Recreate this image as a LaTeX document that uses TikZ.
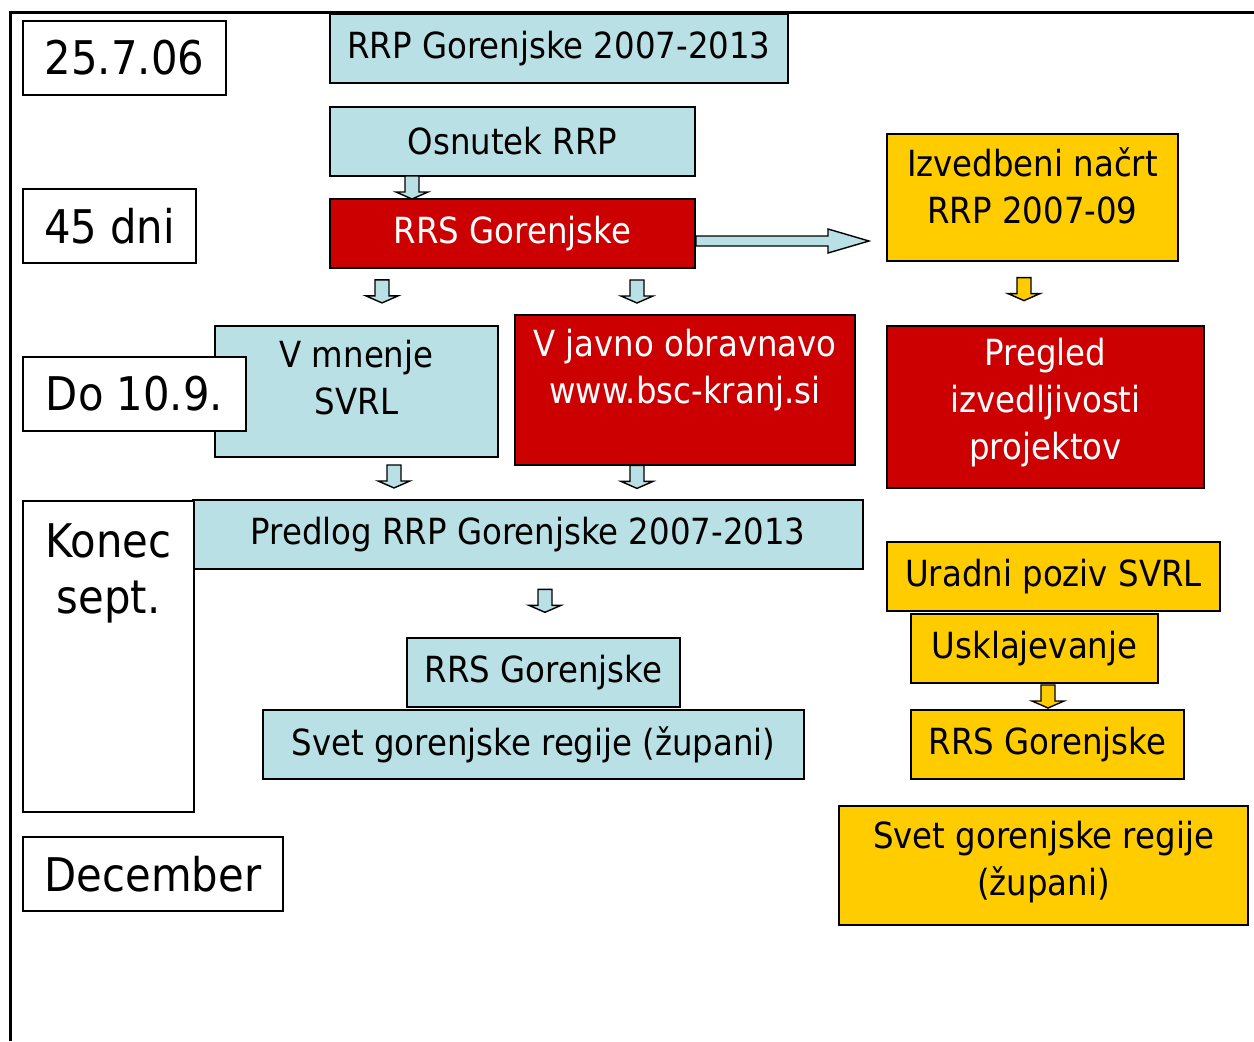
\documentclass[tikz,border=0pt]{standalone}
\usepackage{fontspec}
\setmainfont[FakeStretch=0.9]{DejaVu Sans}
\usetikzlibrary{calc}
\definecolor{ltblue}{RGB}{185,224,228}
\definecolor{rrsred}{RGB}{204,0,0}
\definecolor{gold}{RGB}{255,204,0}
\tikzset{
  spot/.style args={#1/#2/#3/#4}{at={({(#1+#3)/2},{(#2+#4)/2})},
    minimum width={(#3-#1)*0.5pt}, minimum height={(#4-#2)*0.5pt}},
  box/.style={draw=black, line width=1pt, inner sep=0pt, align=center, font=\fontsize{18}{23.5}\selectfont},
  bluebox/.style={box, fill=ltblue},
  redbox/.style={box, fill=rrsred, text=white},
  goldbox/.style={box, fill=gold},
  datebox/.style={box, fill=white, font=\fontsize{23.2}{28}\selectfont},
  blockarrow/.style={draw=black, line width=0.7pt, line join=miter},
}
% block arrow between two boxes, at x = #4, at fraction #5 of the gap
\newcommand{\blockdown}[5][ltblue]{%
  \path (#4,0) coordinate (ax) ($(#2.south)!#5!(#3.north)$) coordinate (am);
  \draw[blockarrow, fill=#1] (ax |- am) ++(-7,-11.5) -- ++(14,0) -- ++(0,16) -- ++(9,0)
    -- ++(-16,7) -- ++(-16,-7) -- ++(9,0) -- cycle;}

\begin{document}
\begin{tikzpicture}[x=0.5pt, y=-0.5pt]
  \useasboundingbox (0,0) rectangle (1254,1041);
  \draw[line width=1.5pt] (1254,12) -- (10,12) -- (10,1041);

  % middle column
  \node[bluebox, spot=330/14/788/83] (rrp) {RRP Gorenjske 2007-2013};
  \node[bluebox, spot=330/107/695/176] (osnutek) {Osnutek RRP};
  \node[redbox, spot=330/199/695/268] (rrs1) {RRS Gorenjske};
  \node[bluebox, spot=215/326/498/457, text depth=14pt] (mnenje) {V mnenje\\SVRL};
  \node[redbox, spot=515/315/855/465, text depth=23.5pt] (javno) {V javno obravnavo\\www.bsc-kranj.si};
  \node[bluebox, spot=193/500/863/569] (predlog) {Predlog RRP Gorenjske 2007-2013};
  \node[bluebox, spot=407/638/680/707] (rrs2) {RRS Gorenjske};
  \node[bluebox, spot=263/710/804/779] (svet1) {Svet gorenjske regije (župani)};

  % right column
  \node[goldbox, spot=887/134/1178/261, text depth=12pt] (izvedba) {Izvedbeni načrt\\RRP 2007-09};
  \node[redbox, spot=887/326/1204/488, text depth=8pt] (pregled) {Pregled\\izvedljivosti\\projektov};
  \node[goldbox, spot=887/542/1220/611] (poziv) {Uradni poziv SVRL};
  \node[goldbox, spot=911/614/1158/683] (uskl) {Usklajevanje};
  \node[goldbox, spot=911/710/1184/779] (rrs3) {RRS Gorenjske};
  \node[goldbox, spot=839/806/1248/925, text depth=7.5pt] (svet2) {Svet gorenjske regije\\(župani)};

  % dates
  \node[datebox, spot=23/21/226/95] (d1) {25.7.06};
  \node[datebox, spot=23/189/196/263] (d2) {45 dni};
  \node[datebox, spot=23/357/246/431] (d3) {Do 10.9.};
  \node[datebox, spot=23/501/194/812, text depth=87.5pt] (d4) {Konec\\sept.};
  \node[datebox, spot=23/837/283/911] (d5) {December};

  % arrows
  \blockdown{osnutek}{rrs1}{412}{0.5}
  \blockdown{rrs1}{mnenje}{382}{0.4}
  \blockdown{rrs1}{javno}{637}{0.5}
  \blockdown{mnenje}{predlog}{394}{0.45}
  \blockdown{javno}{predlog}{637}{0.33}
  \blockdown{predlog}{rrs2}{545}{0.46}
  \blockdown[gold]{izvedba}{pregled}{1024}{0.43}
  \blockdown[gold]{uskl}{rrs3}{1048}{0.5}
  \draw[blockarrow, fill=ltblue] ($(rrs1.east)+(0,2.5)$) -- ++(132,0) -- ++(0,-7) -- ++(41,12)
    -- ++(-41,12) -- ++(0,-7) -- ++(-132,0) -- cycle;
\end{tikzpicture}
\end{document}
